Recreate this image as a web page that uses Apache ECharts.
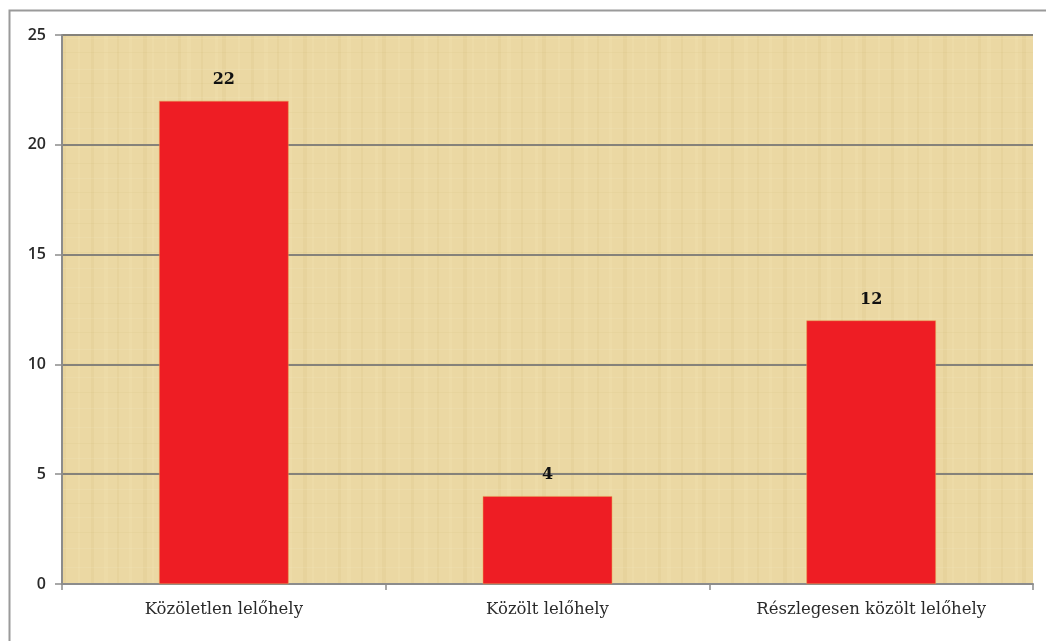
<!DOCTYPE html>
<html>
<head>
<meta charset="utf-8">
<script src="https://cdn.jsdelivr.net/npm/echarts@6/dist/echarts.min.js"></script>
<style>
html, body { margin: 0; padding: 0; background: #fff; }
#main { width: 1046px; height: 641px; }
</style>
</head>
<body>
<div id="main"></div>
<script>
// adatok
var categories = ['Közöletlen lelőhely', 'Közölt lelőhely', 'Részlegesen közölt lelőhely'];
var values = [22, 4, 12];
var yTicks = [0, 5, 10, 15, 20, 25];

// papirusz jellegu hatter minta (csak diszites)
function makePaper() {
	var c = document.createElement('canvas');
	c.width = 160; c.height = 140;
	var ctx = c.getContext('2d');
	ctx.fillStyle = '#ebd8a3';
	ctx.fillRect(0, 0, 160, 140);
	var vx = [5, 18, 27, 41, 55, 62, 78, 91, 104, 117, 129, 143, 152];
	for (var i = 0; i < vx.length; i++) {
		ctx.fillStyle = i % 2 ? 'rgba(200,170,100,0.10)' : 'rgba(250,235,190,0.18)';
		ctx.fillRect(vx[i], 0, (i % 3) + 2, 140);
	}
	var hy = [7, 23, 38, 52, 69, 83, 97, 112, 128];
	for (var j = 0; j < hy.length; j++) {
		ctx.fillStyle = j % 2 ? 'rgba(190,160,95,0.08)' : 'rgba(250,240,205,0.14)';
		ctx.fillRect(0, hy[j], 160, 1);
	}
	return c;
}

var chart = echarts.init(document.getElementById('main'));
chart.setOption({
	backgroundColor: '#ffffff',
	animation: false,
	graphic: [{
		type: 'rect',
		shape: { x: 9.5, y: 10.5, width: 1100, height: 700 },
		style: { fill: 'none', stroke: '#9a9a9a', lineWidth: 2 },
		silent: true
	}],
	grid: {
		left: 62,
		right: 13,
		top: 35,
		bottom: 57,
		show: true,
		borderWidth: 0,
		backgroundColor: { image: makePaper(), repeat: 'repeat' }
	},
	xAxis: {
		type: 'category',
		data: categories,
		axisLine: { lineStyle: { color: '#8c8c8c', width: 2 } },
		axisTick: { show: true, length: 6, lineStyle: { color: '#8c8c8c', width: 1.5 } },
		axisLabel: {
			margin: 17,
			fontFamily: 'DejaVu Serif',
			fontSize: 16.5,
			color: '#2a2a2a',
			letterSpacing: -0.6
		}
	},
	yAxis: {
		type: 'value',
		min: 0,
		max: 25,
		interval: 5,
		axisLine: { show: true, lineStyle: { color: '#8c8c8c', width: 2 } },
		axisTick: { show: true, length: 7, lineStyle: { color: '#8c8c8c', width: 1.5 } },
		axisLabel: {
			margin: 16,
			fontFamily: 'Open Sans',
			fontSize: 16,
			fontWeight: 600,
			color: '#2a2a2a',
			formatter: function (v) { return yTicks.indexOf(v) >= 0 ? String(v) : ''; }
		},
		splitLine: { lineStyle: { color: '#85827a', width: 2 } }
	},
	series: [{
		type: 'bar',
		data: values,
		barWidth: '40%',
		itemStyle: { color: '#ee1d24', borderColor: '#e9a050', borderWidth: 0.5 },
		label: {
			show: true,
			position: 'top',
			distance: 13,
			fontFamily: 'DejaVu Serif',
			fontWeight: 'bold',
			fontSize: 16,
			color: '#111'
		}
	}]
});
</script>
</body>
</html>
